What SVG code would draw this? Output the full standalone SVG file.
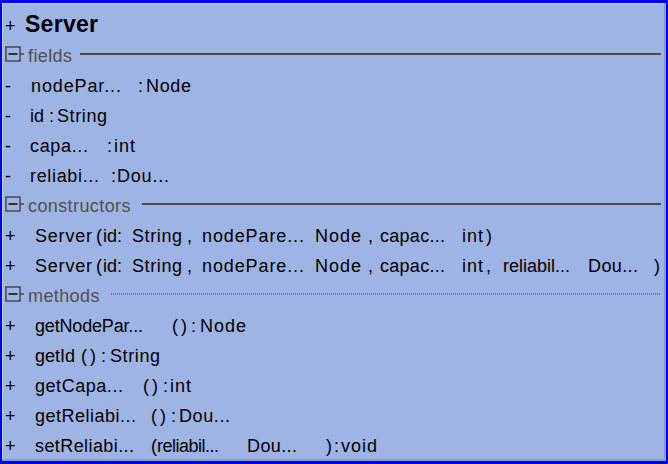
<svg xmlns="http://www.w3.org/2000/svg" width="668" height="464" viewBox="0 0 668 464">
  <style>
    text { font-family: "Liberation Sans", Arial, sans-serif; font-size: 18px; fill: #000; }
    .title { font-size: 23px; font-weight: bold; }
    .hdr { fill: #505050; letter-spacing: 0.4px; }
    .sep { stroke: #4a4a4a; stroke-width: 2; }
    .dot { stroke: #6a6a6a; stroke-width: 1.5; stroke-dasharray: 1 1; }
    .box { fill: none; stroke: #404040; stroke-width: 1.4; }
    .minus { stroke: #303030; stroke-width: 2; }
  </style>
  <defs>
    <g id="toggle">
      <rect class="box" x="6" y="-14" width="14" height="14"/>
      <line class="minus" x1="8.5" y1="-7" x2="17.5" y2="-7"/>
      <line class="box" x1="20" y1="-7" x2="24" y2="-7"/>
    </g>
  </defs>

  <!-- class frame -->
  <g id="Server">
    <rect x="0" y="0" width="668" height="464" fill="#0000ff"/>
    <rect x="2" y="3" width="664" height="458" fill="#8a9cc8"/>
    <rect x="2" y="3" width="662" height="456" fill="#c3d0ee"/>
    <rect x="3" y="4" width="661" height="455" fill="#9db4e4"/>

    <text x="5" y="32">+</text>
    <text class="title" x="25" y="32" textLength="73" lengthAdjust="spacing">Server</text>

    <!-- fields -->
    <g id="fields">
      <use href="#toggle" x="0" y="61"/>
      <text class="hdr" x="28" y="62">fields</text>
      <line class="sep" x1="80" y1="54" x2="661" y2="54"/>

      <text x="5" y="92">-</text>
      <text x="31" y="92" textLength="90" lengthAdjust="spacing">nodePar...</text>
      <text x="138" y="92">:</text>
      <text x="146" y="92" textLength="45" lengthAdjust="spacing">Node</text>

      <text x="5" y="122">-</text>
      <text x="30" y="122">id</text>
      <text x="49" y="122">:</text>
      <text x="57" y="122" textLength="50" lengthAdjust="spacing">String</text>

      <text x="5" y="152">-</text>
      <text x="30" y="152" textLength="58" lengthAdjust="spacing">capa...</text>
      <text x="107" y="152">:</text>
      <text x="114" y="152" textLength="21" lengthAdjust="spacing">int</text>

      <text x="5" y="182">-</text>
      <text x="30" y="182" textLength="69" lengthAdjust="spacing">reliabi...</text>
      <text x="111" y="182">:</text>
      <text x="117" y="182" textLength="52" lengthAdjust="spacing">Dou...</text>
    </g>

    <!-- constructors -->
    <g id="constructors">
      <use href="#toggle" x="0" y="211"/>
      <text class="hdr" x="28" y="212">constructors</text>
      <line class="sep" x1="142" y1="204" x2="661" y2="204"/>

      <text x="5" y="242">+</text>
      <text x="35" y="242" textLength="57" lengthAdjust="spacing">Server</text>
      <text x="96" y="242">(</text>
      <text x="103" y="242">id:</text>
      <text x="132" y="242" textLength="50" lengthAdjust="spacing">String</text>
      <text x="187" y="242">,</text>
      <text x="202" y="242" textLength="102" lengthAdjust="spacing">nodePare...</text>
      <text x="315" y="242" textLength="46" lengthAdjust="spacing">Node</text>
      <text x="368" y="242">,</text>
      <text x="380" y="242" textLength="65" lengthAdjust="spacing">capac...</text>
      <text x="462" y="242" textLength="21" lengthAdjust="spacing">int</text>
      <text x="486" y="242">)</text>

      <text x="5" y="272">+</text>
      <text x="35" y="272" textLength="57" lengthAdjust="spacing">Server</text>
      <text x="96" y="272">(</text>
      <text x="103" y="272">id:</text>
      <text x="132" y="272" textLength="50" lengthAdjust="spacing">String</text>
      <text x="187" y="272">,</text>
      <text x="202" y="272" textLength="102" lengthAdjust="spacing">nodePare...</text>
      <text x="315" y="272" textLength="46" lengthAdjust="spacing">Node</text>
      <text x="368" y="272">,</text>
      <text x="380" y="272" textLength="65" lengthAdjust="spacing">capac...</text>
      <text x="462" y="272" textLength="21" lengthAdjust="spacing">int</text>
      <text x="486" y="272">,</text>
      <text x="503" y="272">reliabil...</text>
      <text x="588" y="272" textLength="50" lengthAdjust="spacing">Dou...</text>
      <text x="654" y="272">)</text>
    </g>

    <!-- methods -->
    <g id="methods">
      <use href="#toggle" x="0" y="301"/>
      <text class="hdr" x="28" y="302">methods</text>
      <line class="dot" x1="111" y1="294" x2="661" y2="294"/>

      <text x="5" y="332">+</text>
      <text x="35" y="332" textLength="108" lengthAdjust="spacing">getNodePar...</text>
      <text x="172" y="332">(</text>
      <text x="181" y="332">)</text>
      <text x="191" y="332">:</text>
      <text x="200" y="332" textLength="46" lengthAdjust="spacing">Node</text>

      <text x="5" y="362">+</text>
      <text x="35" y="362" textLength="40" lengthAdjust="spacing">getId</text>
      <text x="81" y="362">(</text>
      <text x="90" y="362">)</text>
      <text x="101" y="362">:</text>
      <text x="110" y="362" textLength="50" lengthAdjust="spacing">String</text>

      <text x="5" y="392">+</text>
      <text x="35" y="392" textLength="88" lengthAdjust="spacing">getCapa...</text>
      <text x="143" y="392">(</text>
      <text x="152" y="392">)</text>
      <text x="163" y="392">:</text>
      <text x="170" y="392" textLength="21" lengthAdjust="spacing">int</text>

      <text x="5" y="422">+</text>
      <text x="35" y="422" textLength="101" lengthAdjust="spacing">getReliabi...</text>
      <text x="151" y="422">(</text>
      <text x="160" y="422">)</text>
      <text x="171" y="422">:</text>
      <text x="179" y="422" textLength="51" lengthAdjust="spacing">Dou...</text>

      <text x="5" y="452">+</text>
      <text x="35" y="452" textLength="99" lengthAdjust="spacing">setReliabi...</text>
      <text x="151" y="452">(</text>
      <text x="157" y="452" textLength="62" lengthAdjust="spacing">reliabil...</text>
      <text x="247" y="452" textLength="50" lengthAdjust="spacing">Dou...</text>
      <text x="326" y="452">)</text>
      <text x="334" y="452">:</text>
      <text x="341" y="452" textLength="36" lengthAdjust="spacing">void</text>
    </g>
  </g>
</svg>
